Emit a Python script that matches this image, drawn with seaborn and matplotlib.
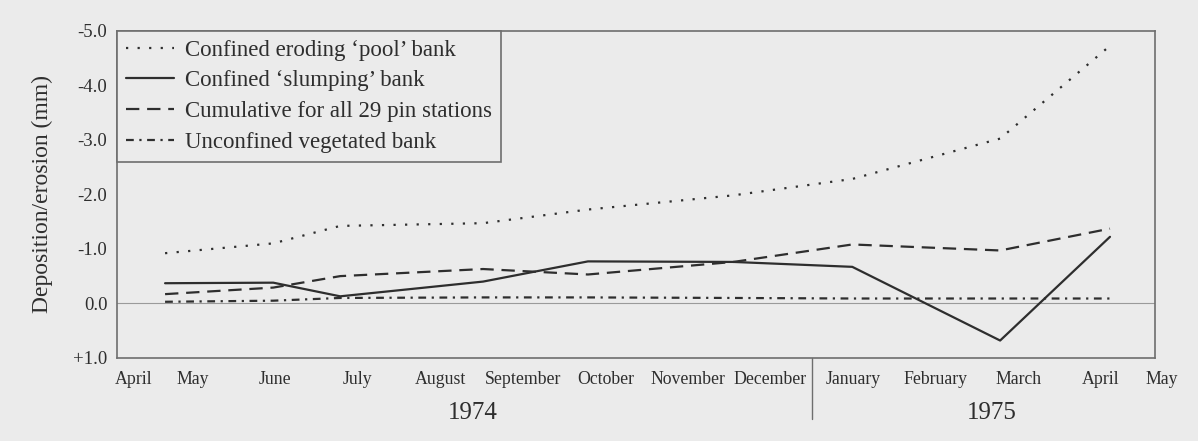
import matplotlib
matplotlib.use("Agg")
import matplotlib.pyplot as plt
import seaborn as sns
import pandas as pd
from matplotlib.lines import Line2D

# ---- data (x = position in months from 1 April 1974) ----
survey_pos = [1.17, 2.48, 3.29, 5.02, 6.29, 8.05, 9.49, 11.28, 12.61]
pool_bank = [-0.92, -1.10, -1.42, -1.47, -1.72, -1.98, -2.28, -3.02, -4.72]
slumping_bank = [-0.37, -0.38, -0.13, -0.40, -0.77, -0.76, -0.67, 0.68, -1.22]
cumulative_all = [-0.17, -0.29, -0.50, -0.63, -0.53, -0.76, -1.08, -0.97, -1.37]
unconfined_veg = [-0.03, -0.05, -0.10, -0.11, -0.11, -0.10, -0.09, -0.09, -0.09]

series_labels = ["Confined eroding \u2018pool\u2019 bank",
                 "Confined \u2018slumping\u2019 bank",
                 "Cumulative for all 29 pin stations",
                 "Unconfined vegetated bank"]
month_labels = ["April", "May", "June", "July", "August", "September", "October",
                "November", "December", "January", "February", "March", "April", "May"]
year_labels = ["1974", "1975"]
ytick_vals = [-5, -4, -3, -2, -1, 0, 1]
ytick_text = ["-5.0", "-4.0", "-3.0", "-2.0", "-1.0", "0.0", "+1.0"]

BG = "#ebebeb"
INK = "#2e2e2e"
AX = "#6e6e6e"

sns.set_style("white")
plt.rcParams["font.family"] = ["Liberation Serif", "DejaVu Serif"]

fig = plt.figure(figsize=(11.98, 4.41), dpi=100, facecolor=BG)
ax = fig.add_axes([117/1198, 1-358/441, (1155-117)/1198, (358-30.5)/441])
ax.set_facecolor(BG)

styles = [(0, (1, 4.2)), "-", (0, (6, 3.5)), (0, (3.5, 2.5, 1, 2.5))]
series = [pool_bank, slumping_bank, cumulative_all, unconfined_veg]
for vals, lab, ls in zip(series, series_labels, styles):
    df = pd.DataFrame({"pos": survey_pos, "val": vals})
    sns.lineplot(data=df, x="pos", y="val", ax=ax, sort=False, color=INK,
                 linewidth=1.6, linestyle=ls, label=lab, legend=False)

ax.axhline(0, color="#9a9a9a", lw=0.8, zorder=0)

ax.set_xlim(0.588, 13.155)
ax.set_ylim(1, -5)
ax.set_yticks(ytick_vals)
ax.set_yticklabels(ytick_text)
ax.set_xlabel("")
ax.set_ylabel("Deposition/erosion (mm)", fontsize=17, color=INK)
ax.yaxis.set_label_coords(-0.062, 0.5)

# month boundaries as ticks, month names centred between them
ax.set_xticks(list(range(1, 14)))
ax.set_xticklabels([])
mid = [(0.588 + 1) / 2] + [k + 0.5 for k in range(1, 13)]
ax.set_xticks(mid, minor=True)
ax.set_xticklabels(month_labels[:13], minor=True)
ax.tick_params(axis="x", which="minor", length=0, pad=9, labelsize=12.8, labelcolor=INK)
ax.tick_params(axis="x", which="major", length=5, width=1, color=AX, direction="out")
ax.tick_params(axis="y", length=5, width=1, color=AX, direction="out", labelsize=13.5,
               labelcolor=INK, pad=2)
ax.annotate(month_labels[13], xy=(13.24, 0), xycoords=ax.get_xaxis_transform(),
            xytext=(0, -9), textcoords="offset points", ha="center", va="top",
            fontsize=12.8, color=INK, annotation_clip=False)

# year labels and the year divider
ax.text(4.9, -0.168, year_labels[0], transform=ax.get_xaxis_transform(),
        ha="center", va="center", fontsize=18, color=INK)
ax.text(11.18, -0.168, year_labels[1], transform=ax.get_xaxis_transform(),
        ha="center", va="center", fontsize=18, color=INK)
ax.plot([9, 9], [0, -0.185], transform=ax.get_xaxis_transform(), color=AX,
        lw=1, clip_on=False)

for s in ax.spines.values():
    s.set_visible(True)
    s.set_color(AX)
    s.set_linewidth(1.2)

handles = [Line2D([0], [0], color=INK, lw=1.6, linestyle=ls) for ls in styles]
leg = ax.legend(handles, series_labels, loc="upper left", bbox_to_anchor=(0, 1),
                borderaxespad=0, fontsize=16.5, frameon=True, fancybox=False,
                handlelength=2.1, handletextpad=0.45, labelspacing=0.42,
                borderpad=0.4, labelcolor=INK)
fr = leg.get_frame()
fr.set_edgecolor(AX)
fr.set_facecolor(BG)
fr.set_alpha(1)
fr.set_linewidth(1.2)

fig.savefig("out.png", dpi=100, facecolor=BG)
